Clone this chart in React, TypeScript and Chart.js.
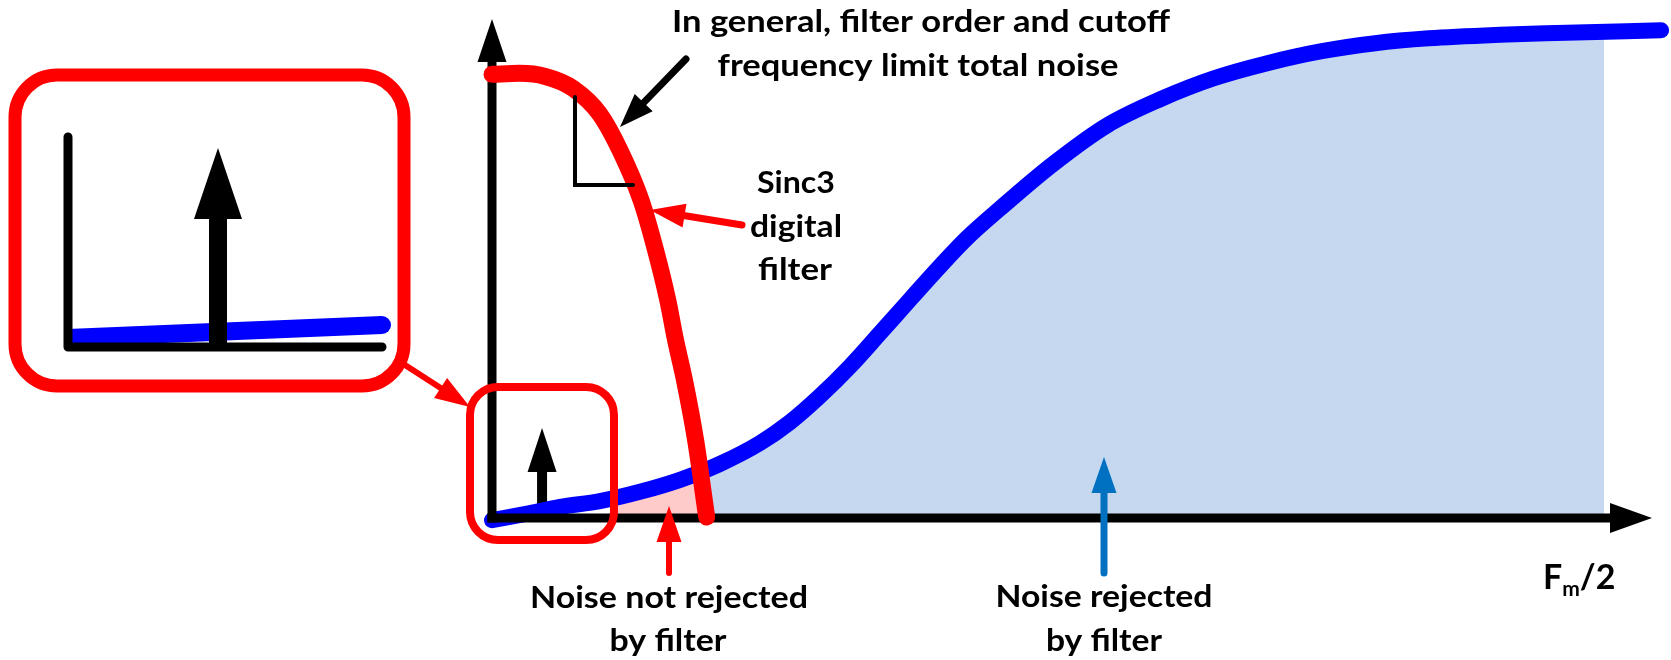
import React, { useEffect, useRef } from "react";
import { Chart, registerables } from "chart.js";

Chart.register(...registerables);

// Normalised frequency (f / (Fm/2)) and relative magnitude
const sincFreq = [0, 0.025, 0.048, 0.073, 0.097, 0.115, 0.134, 0.147, 0.158, 0.165, 0.173, 0.183, 0.193];
const sincGain = [1.0, 1.002, 0.995, 0.968, 0.91, 0.829, 0.716, 0.604, 0.491, 0.401, 0.311, 0.176, 0.002];

const noiseFreq = [0, 0.034, 0.061, 0.097, 0.133, 0.169, 0.205, 0.241, 0.268, 0.295, 0.322, 0.349, 0.376, 0.403, 0.427, 0.457, 0.504, 0.553, 0.601, 0.649, 0.697, 0.746, 0.794, 0.842, 0.906, 0.957, 1.051];
const noiseLevel = [-0.005, 0.011, 0.025, 0.038, 0.059, 0.086, 0.122, 0.169, 0.216, 0.275, 0.342, 0.417, 0.493, 0.568, 0.631, 0.698, 0.797, 0.885, 0.944, 0.991, 1.025, 1.052, 1.07, 1.081, 1.089, 1.093, 1.099];

const toneFreq = 0.045;
const toneAmp = 0.203;
const pinkStart = 0.112;
const cutFreq = 0.19;
const nyquistFreq = 1.0;
const X_MAX = 1.05;
const Y_MAX = 1.12;

const xLabelMain = "F";
const xLabelSub = "m";
const xLabelTail = "/2";

const RED = "#FF0000";
const BLUE = "#0000FF";
const LIGHT_BLUE = "#C5D8F0";
const PINK = "#FFCACA";
const ARROW_BLUE = "#0070C0";
const FONT = "Lato, 'Open Sans', sans-serif";

function arrow(
  ctx: CanvasRenderingContext2D,
  x1: number, y1: number, x2: number, y2: number,
  color: string, shaft: number, headLen: number, headW: number,
  cap: CanvasLineCap = "round"
) {
  const dx = x2 - x1, dy = y2 - y1;
  const L = Math.hypot(dx, dy);
  const ux = dx / L, uy = dy / L;
  const bx = x2 - ux * headLen, by = y2 - uy * headLen;
  ctx.save();
  ctx.strokeStyle = color;
  ctx.fillStyle = color;
  ctx.lineWidth = shaft;
  ctx.lineCap = cap;
  ctx.beginPath();
  ctx.moveTo(x1, y1);
  ctx.lineTo(bx + ux * 1, by + uy * 1);
  ctx.stroke();
  ctx.beginPath();
  ctx.moveTo(x2, y2);
  ctx.lineTo(bx - (uy * headW) / 2, by + (ux * headW) / 2);
  ctx.lineTo(bx + (uy * headW) / 2, by - (ux * headW) / 2);
  ctx.closePath();
  ctx.fill();
  ctx.restore();
}

function fitText(ctx: CanvasRenderingContext2D, text: string, cx: number, y: number, width: number, size = 30) {
  ctx.save();
  ctx.font = `bold ${size}px ${FONT}`;
  const w = ctx.measureText(text).width;
  ctx.translate(cx, y);
  ctx.scale(width / w, 1);
  ctx.textAlign = "center";
  ctx.textBaseline = "alphabetic";
  ctx.fillStyle = "#000";
  ctx.fillText(text, 0, 0);
  ctx.restore();
}

const FILL_IDX = 2;
const BLUE_IDX = 1;

const decorPlugin = {
  id: "decor",
  afterDatasetDraw(chart: any, args: any) {
    const ctx: CanvasRenderingContext2D = chart.ctx;
    const xs = chart.scales.x, ys = chart.scales.y;
    const x0 = xs.getPixelForValue(0);
    const y0 = ys.getPixelForValue(0);
    if (args.index === FILL_IDX) {
      // tone (signal) arrow, base hidden under noise curve
      const tx = xs.getPixelForValue(toneFreq);
      const ty = ys.getPixelForValue(toneAmp);
      arrow(ctx, tx, y0, tx, ty, "#000", 10, 44, 29, "butt");
    }
    if (args.index === BLUE_IDX) {
      // main axes
      arrow(ctx, x0, y0 + 4.5, x0, 19, "#000", 9, 43, 29, "butt");
      arrow(ctx, x0 - 4.5, y0, 1652, y0, "#000", 9, 42, 30, "butt");
    }
  },
  afterDraw(chart: any) {
    const ctx: CanvasRenderingContext2D = chart.ctx;
    ctx.save();
    // ---- inset (zoomed view) ----
    ctx.strokeStyle = RED;
    ctx.lineWidth = 13;
    ctx.beginPath();
    (ctx as any).roundRect(15, 75, 389, 311, 42);
    ctx.stroke();
    // inset noise line
    ctx.strokeStyle = BLUE;
    ctx.lineWidth = 18;
    ctx.lineCap = "butt";
    ctx.beginPath();
    ctx.moveTo(68, 338);
    ctx.lineTo(382, 325);
    ctx.stroke();
    ctx.fillStyle = BLUE;
    ctx.beginPath();
    ctx.arc(382, 325, 9, 0, Math.PI * 2);
    ctx.fill();
    // inset axes
    ctx.strokeStyle = "#000";
    ctx.lineWidth = 9;
    ctx.lineCap = "round";
    ctx.lineJoin = "round";
    ctx.beginPath();
    ctx.moveTo(68, 137);
    ctx.lineTo(68, 347);
    ctx.lineTo(382, 347);
    ctx.stroke();
    arrow(ctx, 218, 347, 218, 148, "#000", 18, 71, 48, "butt");

    // ---- small highlight box at origin ----
    ctx.strokeStyle = RED;
    ctx.lineWidth = 8;
    ctx.beginPath();
    (ctx as any).roundRect(470, 387, 144, 153, 28);
    ctx.stroke();
    // connector
    arrow(ctx, 405, 365, 470, 407, RED, 6, 35, 24);

    // ---- slope marker ----
    ctx.strokeStyle = "#000";
    ctx.lineWidth = 4;
    ctx.lineCap = "round";
    ctx.lineJoin = "miter";
    ctx.beginPath();
    ctx.moveTo(575, 97);
    ctx.lineTo(575, 185);
    ctx.lineTo(633, 185);
    ctx.stroke();

    // ---- arrows ----
    arrow(ctx, 686, 59, 620, 127, "#000", 7, 34, 25);
    arrow(ctx, 742, 225, 650, 210, RED, 7, 35, 24);
    arrow(ctx, 669, 573, 669, 506, RED, 6, 36, 25);
    arrow(ctx, 1104, 573, 1104, 457, ARROW_BLUE, 7, 36, 25);

    // ---- texts ----
    fitText(ctx, "In general, filter order and cutoff", 921, 32, 498);
    fitText(ctx, "frequency limit total noise", 918, 76, 401);
    fitText(ctx, "Sinc3", 796, 193, 78);
    fitText(ctx, "digital", 796, 237, 92);
    fitText(ctx, "filter", 795, 280, 74);
    fitText(ctx, "Noise not rejected", 669, 608, 278);
    fitText(ctx, "by filter", 668, 651, 117);
    fitText(ctx, "Noise rejected", 1104, 607, 217);
    fitText(ctx, "by filter", 1104, 651, 116);

    // F_m/2
    ctx.fillStyle = "#000";
    ctx.textAlign = "left";
    ctx.textBaseline = "alphabetic";
    let x = 1543;
    ctx.font = `bold 34px ${FONT}`;
    ctx.fillText(xLabelMain, x, 589);
    x += ctx.measureText(xLabelMain).width;
    ctx.font = `bold 21px ${FONT}`;
    ctx.fillText(xLabelSub, x, 596);
    x += ctx.measureText(xLabelSub).width;
    ctx.font = `bold 34px ${FONT}`;
    ctx.fillText(xLabelTail, x, 589);
    ctx.restore();
  },
};

export default function App() {
  const ref = useRef<HTMLCanvasElement | null>(null);
  useEffect(() => {
    if (!ref.current) return;
    const sinc = sincFreq.map((f, i) => ({ x: f, y: sincGain[i] }));
    const noise = noiseFreq.map((f, i) => ({ x: f, y: noiseLevel[i] }));
    const fillColor = (c: any) => {
      const chart = c.chart;
      if (!chart.chartArea) return "transparent";
      const xs = chart.scales.x;
      const W = chart.width;
      const g = chart.ctx.createLinearGradient(0, 0, W, 0);
      const a = xs.getPixelForValue(pinkStart) / W;
      const b = xs.getPixelForValue(cutFreq) / W;
      const e = xs.getPixelForValue(nyquistFreq) / W;
      g.addColorStop(0, "rgba(255,255,255,0)");
      g.addColorStop(a, "rgba(255,255,255,0)");
      g.addColorStop(a, PINK);
      g.addColorStop(b, PINK);
      g.addColorStop(b, LIGHT_BLUE);
      g.addColorStop(e, LIGHT_BLUE);
      g.addColorStop(e, "rgba(255,255,255,0)");
      g.addColorStop(1, "rgba(255,255,255,0)");
      return g;
    };
    const chart = new Chart(ref.current, {
      type: "line",
      data: {
        datasets: [
          {
            label: "Sinc3 digital filter",
            data: sinc,
            borderColor: RED,
            borderWidth: 17,
            borderCapStyle: "round",
            borderJoinStyle: "round",
            pointRadius: 0,
            cubicInterpolationMode: "monotone",
            fill: false,
            clip: false,
            order: 0,
          } as any,
          {
            label: "Noise",
            data: noise,
            borderColor: BLUE,
            borderWidth: 16,
            borderCapStyle: "round",
            borderJoinStyle: "round",
            pointRadius: 0,
            cubicInterpolationMode: "monotone",
            fill: false,
            clip: false,
            order: 1,
          } as any,
          {
            label: "Noise area",
            data: noise,
            borderWidth: 0,
            borderColor: "rgba(0,0,0,0)",
            backgroundColor: fillColor,
            pointRadius: 0,
            cubicInterpolationMode: "monotone",
            fill: "origin",
            clip: false,
            order: 2,
          } as any,
        ],
      },
      options: {
        responsive: false,
        animation: false,
        layout: { padding: { left: 492, right: 11, top: 21, bottom: 142 } },
        plugins: { legend: { display: false }, tooltip: { enabled: false } },
        events: [],
        scales: {
          x: { type: "linear", min: 0, max: X_MAX, display: false },
          y: { type: "linear", min: 0, max: Y_MAX, display: false },
        },
      },
      plugins: [decorPlugin],
    });
    return () => chart.destroy();
  }, []);
  return (
    <div style={{ position: "absolute", left: 0, top: 0, width: 1671, height: 660, background: "#fff" }}>
      <canvas ref={ref} width={1671} height={660} style={{ display: "block" }} />
    </div>
  );
}
